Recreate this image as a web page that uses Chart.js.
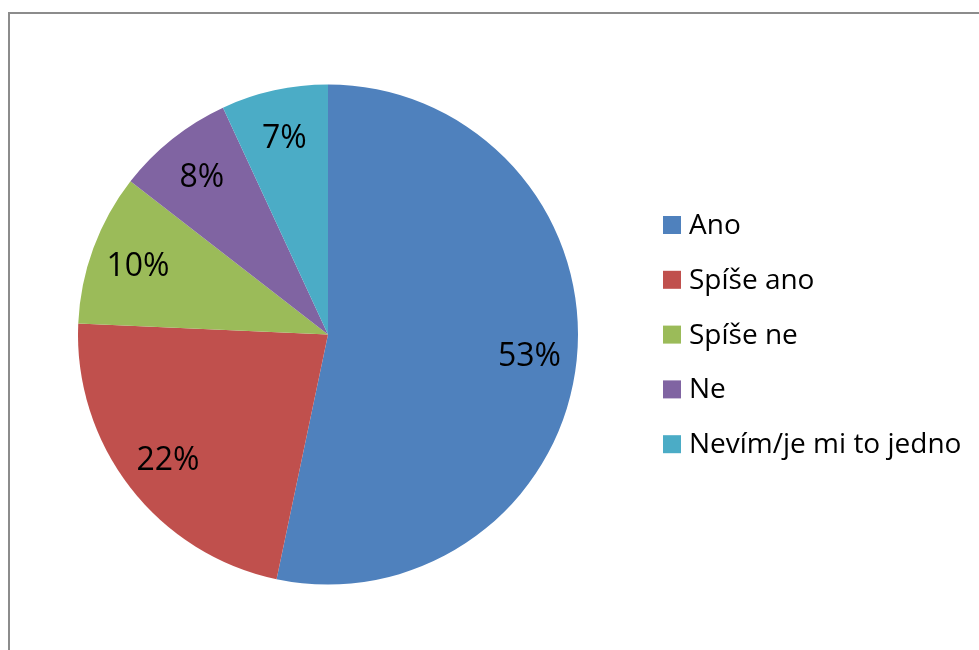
<!DOCTYPE html>
<html lang="cs">
  <head>
    <meta charset="UTF-8" />
    <title>Pie</title>
    <script src="https://cdn.jsdelivr.net/npm/chart.js@4.4.0/dist/chart.umd.min.js"></script>
    <style>
      html, body { margin: 0; padding: 0; background: #fff; overflow: hidden; }
      #wrap { position: relative; width: 979px; height: 650px; }
      #frame {
        position: absolute; left: 8px; top: 12px;
        width: 1000px; height: 700px;
        border: 2px solid #8c8c8c; box-sizing: border-box;
      }
      canvas { position: absolute; left: 0; top: 0; }
    </style>
  </head>
  <body>
    <div id="wrap">
      <div id="frame"></div>
      <canvas id="chart" width="979" height="650"></canvas>
    </div>
    <script>
      // hodnoty (v %)
      const labels = ["Ano", "Spíše ano", "Spíše ne", "Ne", "Nevím/je mi to jedno"];
      const values = [53.3, 22.4, 9.8, 7.6, 6.9];
      const colors = ["#4F81BD", "#C0504D", "#9BBB59", "#8064A2", "#4BACC6"];

      const FONT = "'Open Sans', 'Noto Sans', sans-serif";

      // procenta uvnitř výsečí
      const sliceLabels = {
        id: "sliceLabels",
        afterDatasetsDraw(chart) {
          const ctx = chart.ctx;
          const total = values.reduce((a, b) => a + b, 0);
          ctx.save();
          ctx.font = "32px " + FONT;
          ctx.fillStyle = "#000";
          ctx.textAlign = "center";
          ctx.textBaseline = "alphabetic";
          chart.getDatasetMeta(0).data.forEach((arc, i) => {
            const p = arc.getProps(["x", "y", "startAngle", "endAngle", "outerRadius"], true);
            const mid = (p.startAngle + p.endAngle) / 2;
            const r = p.outerRadius * 0.81;
            const txt = Math.round(values[i] / total * 100) + "%";
            ctx.fillText(txt, p.x + Math.cos(mid) * r, p.y + Math.sin(mid) * r + 11);
          });
          ctx.restore();
        }
      };

      // legenda vpravo
      const sideLegend = {
        id: "sideLegend",
        afterDraw(chart) {
          const ctx = chart.ctx;
          const x0 = 663, y0 = 225, step = 54.8, box = 18;
          ctx.save();
          ctx.font = "28px " + FONT;
          ctx.textAlign = "left";
          ctx.textBaseline = "alphabetic";
          labels.forEach((lab, i) => {
            const cy = y0 + i * step;
            ctx.fillStyle = colors[i];
            ctx.fillRect(x0, cy - box / 2, box, box);
            ctx.fillStyle = "#000";
            ctx.fillText(lab, x0 + 26, cy + 9);
          });
          ctx.restore();
        }
      };

      new Chart(document.getElementById("chart"), {
        type: "pie",
        data: {
          labels: labels,
          datasets: [{
            data: values,
            backgroundColor: colors,
            borderWidth: 0
          }]
        },
        options: {
          responsive: false,
          animation: false,
          layout: { padding: { left: 78, right: 401, top: 84.5, bottom: 65.5 } },
          plugins: {
            legend: { display: false },
            tooltip: { enabled: false }
          }
        },
        plugins: [sliceLabels, sideLegend]
      });
    </script>
  </body>
</html>
